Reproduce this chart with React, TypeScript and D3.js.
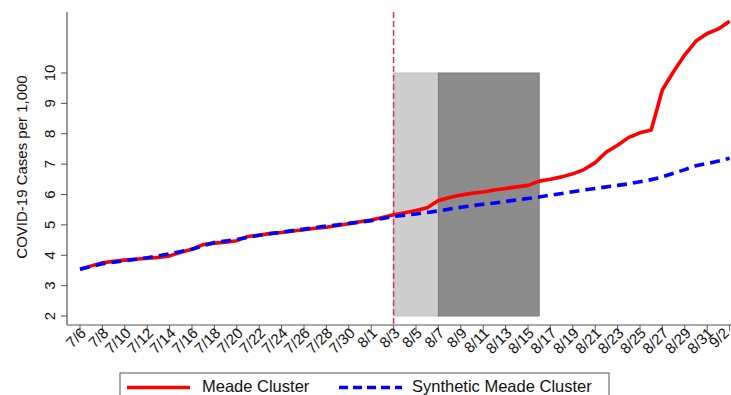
import * as d3 from "d3"

// fechas diarias 7/6 .. 9/2
const fechas: string[] = []
const inicio = new Date(2020, 6, 6)
for (let i = 0; i < 59; i++) {
  const d = new Date(inicio.getTime() + i * 86400000)
  fechas.push(`${d.getMonth() + 1}/${d.getDate()}`)
}

const meade = [
  3.54, 3.65, 3.75, 3.8, 3.84, 3.87, 3.9, 3.93, 3.98, 4.1,
  4.2, 4.35, 4.4, 4.43, 4.48, 4.62, 4.66, 4.72, 4.75, 4.8,
  4.84, 4.89, 4.92, 4.98, 5.04, 5.1, 5.16, 5.24, 5.33, 5.4,
  5.47, 5.56, 5.8, 5.9, 5.98, 6.04, 6.08, 6.15, 6.2, 6.25,
  6.3, 6.44, 6.5, 6.58, 6.68, 6.82, 7.05, 7.4, 7.62, 7.88,
  8.03, 8.12, 9.45, 10.05, 10.6, 11.05, 11.3, 11.45, 11.7,
]

const sintetico = [
  3.54, 3.63, 3.72, 3.77, 3.82, 3.87, 3.92, 3.98, 4.05, 4.12,
  4.2, 4.31, 4.42, 4.47, 4.52, 4.59, 4.66, 4.71, 4.76, 4.81,
  4.86, 4.91, 4.96, 5.0, 5.05, 5.09, 5.14, 5.21, 5.28, 5.32,
  5.36, 5.41, 5.46, 5.52, 5.58, 5.63, 5.68, 5.72, 5.77, 5.82,
  5.87, 5.92, 5.98, 6.03, 6.09, 6.15, 6.2, 6.25, 6.3, 6.35,
  6.42, 6.49, 6.58, 6.7, 6.82, 6.95, 7.02, 7.1, 7.19,
]

const ticksY = [2, 3, 4, 5, 6, 7, 8, 9, 10]
const inicioTratamiento = "8/3"
const bandaClara = ["8/3", "8/7"]
const bandaOscura = ["8/7", "8/16"]
const bandaRango = [2, 10]

const fuente = "'Liberation Sans', Arial, sans-serif"

export default function App() {
  const width = 731
  const height = 395
  const ejeX0 = 67
  const ejeY = 325
  const topY = 12

  const x = d3.scaleLinear().domain([0, 58]).range([80, 729.6])
  const y = d3.scaleLinear().domain([2, 10]).range([316, 73])
  const idx = (f: string) => fechas.indexOf(f)

  const linea = d3
    .line<number>()
    .x((_, i) => x(i))
    .y((d) => y(d))
    .curve(d3.curveLinear)

  const xTrat = x(idx(inicioTratamiento))

  return (
    <svg
      width={width}
      height={height}
      style={{ position: "absolute", left: 0, top: 0, background: "#fff" }}
      fontFamily={fuente}
    >
      {/* bandas */}
      <rect
        x={x(idx(bandaClara[0]))}
        y={y(bandaRango[1])}
        width={x(idx(bandaClara[1])) - x(idx(bandaClara[0]))}
        height={y(bandaRango[0]) - y(bandaRango[1])}
        fill="#cdcdcd"
        stroke="#c0c0c0"
        strokeWidth={1}
      />
      <rect
        x={x(idx(bandaOscura[0]))}
        y={y(bandaRango[1])}
        width={x(idx(bandaOscura[1])) - x(idx(bandaOscura[0]))}
        height={y(bandaRango[0]) - y(bandaRango[1])}
        fill="#8c8c8c"
        stroke="#7a7a7a"
        strokeWidth={1}
      />

      {/* linea vertical */}
      <line x1={xTrat} x2={xTrat} y1={topY} y2={ejeY} stroke="#dc2f5a" strokeWidth={1.5} strokeDasharray="6,3" />

      {/* series */}
      <path d={linea(meade) || ""} fill="none" stroke="#ff0000" strokeWidth={3.6} strokeLinejoin="round" />
      <path d={linea(sintetico) || ""} fill="none" stroke="#0000ff" strokeWidth={3.6} strokeDasharray="10,6" />

      {/* eje Y */}
      <line x1={ejeX0} x2={ejeX0} y1={topY} y2={ejeY} stroke="#555" strokeWidth={1.2} />
      {ticksY.map((t) => (
        <g key={t}>
          <line x1={ejeX0 - 6} x2={ejeX0} y1={y(t)} y2={y(t)} stroke="#555" strokeWidth={1} />
          <text
            transform={`translate(55,${y(t)}) rotate(-90)`}
            textAnchor="middle"
            fontSize={15}
            fill="#111"
          >
            {t}
          </text>
        </g>
      ))}
      <text transform={`translate(27,167) rotate(-90)`} textAnchor="middle" fontSize={15} fill="#111">
        COVID-19 Cases per 1,000
      </text>

      {/* eje X */}
      <line x1={ejeX0} x2={width} y1={ejeY} y2={ejeY} stroke="#555" strokeWidth={1.2} />
      {fechas.map((f, i) =>
        i % 2 === 0 ? (
          <g key={f}>
            <line x1={x(i)} x2={x(i)} y1={ejeY} y2={ejeY + 6} stroke="#555" strokeWidth={1} />
            <text
              transform={`translate(${Math.min(x(i) + 7, 730)},${ejeY + 9}) rotate(-45)`}
              textAnchor="end"
              fontSize={15}
              fill="#111"
            >
              {f}
            </text>
          </g>
        ) : null,
      )}

      {/* leyenda */}
      <rect x={120} y={373} width={489} height={30} fill="#fff" stroke="#555" strokeWidth={1} />
      <line x1={127} x2={190} y1={387.5} y2={387.5} stroke="#ff0000" strokeWidth={3.6} />
      <text x={202} y={392} fontSize={16.5} fill="#111">
        Meade Cluster
      </text>
      <line x1={339} x2={402} y1={387.5} y2={387.5} stroke="#0000ff" strokeWidth={3.6} strokeDasharray="9,5" />
      <text x={412} y={392} fontSize={16.5} fill="#111">
        Synthetic Meade Cluster
      </text>
    </svg>
  )
}
